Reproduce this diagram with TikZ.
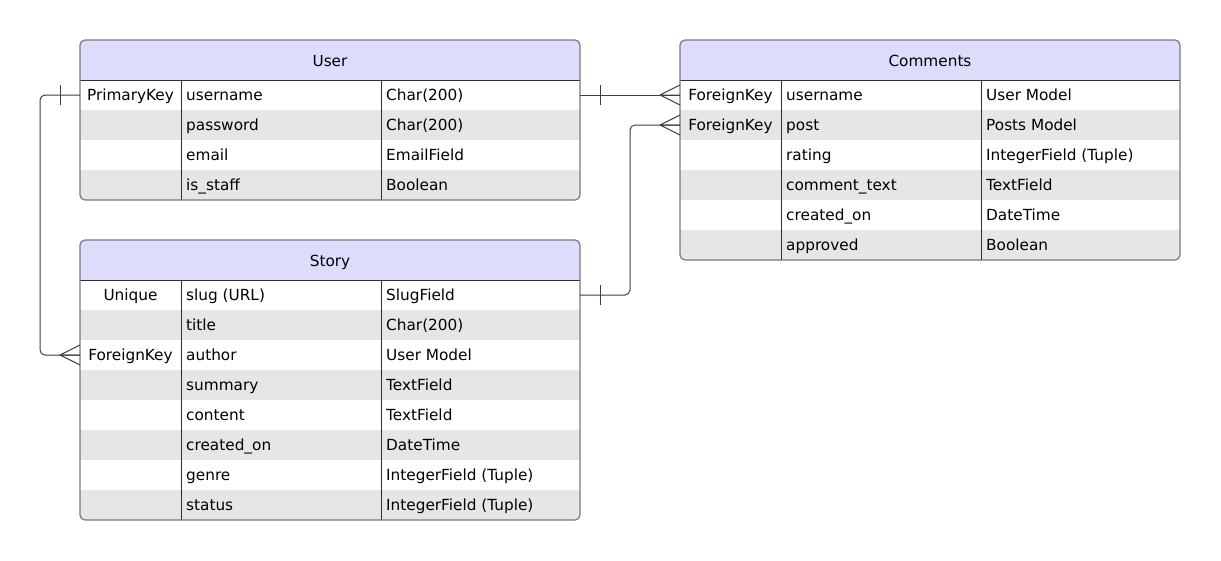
\documentclass[tikz,border=0pt]{standalone}
\usepackage{fontspec}
\setmainfont{DejaVu Sans}
\usetikzlibrary{calc}
\definecolor{headfill}{RGB}{221,221,251}
\definecolor{rowgray}{RGB}{230,230,230}
\definecolor{edgegray}{RGB}{120,120,128}
\definecolor{linedark}{RGB}{45,45,50}
\definecolor{connline}{RGB}{60,62,72}

% one entity table: name, left x, top y, title, number of rows, rows key/field/type
\newcommand\ertab[6]{%
  \pgfmathsetmacro\tabbot{#3+40+30*#5}%
  \begin{scope}
    \clip[rounded corners=5pt] (#2,#3) rectangle (#2+500,\tabbot);
    \node[headbox] (#1-head) at (#2,#3) {};
    \node[celltext, anchor=base] (#1-title) at (#2+250,#3+26) {#4};
    \foreach \k/\f/\t [count=\i] in {#6} {
      \pgfmathtruncatemacro\odd{mod(\i,2)}
      \ifnum\odd=1 \def\rowfill{white}\else\def\rowfill{rowgray}\fi
      \node[rowbox, fill=\rowfill] (#1-r\i) at (#2,#3+10+30*\i) {};
      \node[celltext, anchor=base] (#1-k\i) at (#2+50.5,#3+30.5+30*\i) {\k};
      \node[celltext, anchor=base west] (#1-f\i) at (#2+106,#3+30.5+30*\i) {\f};
      \node[celltext, anchor=base west] (#1-t\i) at (#2+306,#3+30.5+30*\i) {\t};
    }
  \end{scope}
  \draw[sepline] (#2+101,#3+40) -- (#2+101,\tabbot);
  \draw[sepline] (#2+301,#3+40) -- (#2+301,\tabbot);
  \draw[sepline] (#2,#3+40) -- (#2+500,#3+40);
  \draw[tabedge] (#2,#3) rectangle (#2+500,\tabbot);
}

% crow's foot ending on a table's left edge
\newcommand\crowfoot[1]{%
  \draw[conn] ($(#1)+(-20,0)$) -- ($(#1)+(0,-10)$)
              ($(#1)+(-20,0)$) -- (#1)
              ($(#1)+(-20,0)$) -- ($(#1)+(0,10)$);}
% single bar, offset #2 from the edge point #1
\newcommand\onebar[2]{%
  \draw[conn] ($(#1)+(#2,-10)$) -- ($(#1)+(#2,10)$);}

\begin{document}
\begin{tikzpicture}[x=1pt,y=-1pt,
  font=\fontsize{15.3}{18}\selectfont,
  headbox/.style={fill=headfill, minimum width=500pt, minimum height=40pt,
    inner sep=0pt, outer sep=0pt, anchor=north west},
  rowbox/.style={minimum width=500pt, minimum height=30pt, inner sep=0pt,
    outer sep=0pt, anchor=north west},
  celltext/.style={inner sep=0pt},
  sepline/.style={draw=linedark, line width=1pt},
  tabedge/.style={draw=edgegray, line width=1.2pt, rounded corners=5pt},
  conn/.style={draw=connline, line width=1pt}]
\useasboundingbox (0,0) rectangle (1221,560);

\ertab{user}{80}{40}{User}{4}{%
  PrimaryKey/username/Char(200),
  /password/Char(200),
  /email/EmailField,
  /is\_staff/Boolean}

\ertab{story}{80}{240}{Story}{8}{%
  Unique/slug (URL)/SlugField,
  /title/Char(200),
  ForeignKey/author/User Model,
  /summary/TextField,
  /content/TextField,
  /created\_on/DateTime,
  /genre/IntegerField (Tuple),
  /status/IntegerField (Tuple)}

\ertab{comm}{680}{40}{Comments}{6}{%
  ForeignKey/username/User Model,
  ForeignKey/post/Posts Model,
  /rating/IntegerField (Tuple),
  /comment\_text/TextField,
  /created\_on/DateTime,
  /approved/Boolean}

% User (1) to Story author (many)
\draw[conn, rounded corners=5pt] (user-r1.west) -- ++(-40,0) |- (story-r3.west);
\onebar{user-r1.west}{-20}
\crowfoot{story-r3.west}

% User (1) to Comments username (many)
\draw[conn] (user-r1.east) -- (comm-r1.west);
\onebar{user-r1.east}{20}
\crowfoot{comm-r1.west}

% Story (1) to Comments post (many)
\draw[conn, rounded corners=5pt] (story-r1.east) -- ++(50,0) |- (comm-r2.west);
\onebar{story-r1.east}{20}
\crowfoot{comm-r2.west}
\end{tikzpicture}
\end{document}
